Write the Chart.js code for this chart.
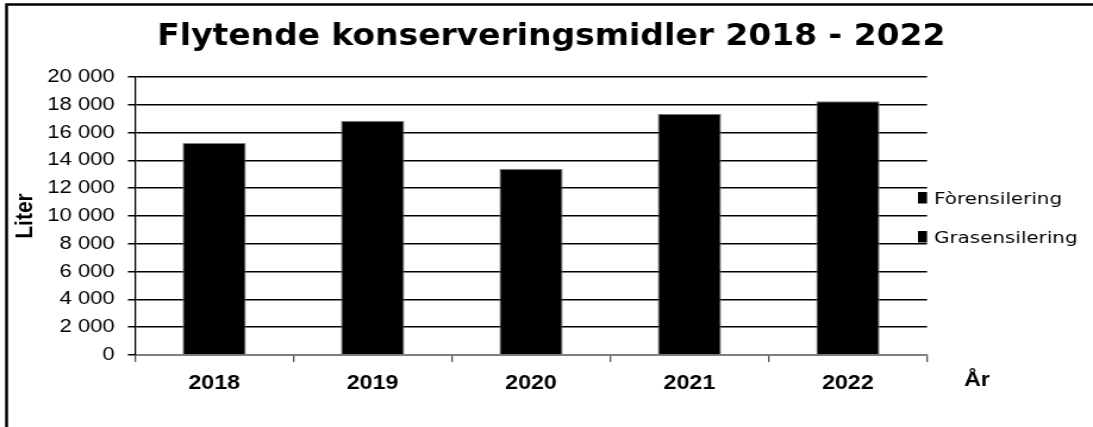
<!DOCTYPE html>
<html>
<head>
<meta charset="utf-8">
<script src="https://cdn.jsdelivr.net/npm/chart.js@4.4.1/dist/chart.umd.min.js"></script>
<style>
  html, body { margin: 0; padding: 0; background: #fff; }
  /* the original picture is stretched sideways, so the canvas is too */
  #chart { display: block; width: 1093px; height: 427px; }
</style>
</head>
<body>
<canvas id="chart" width="918" height="427" style="width:1093px;height:427px"></canvas>
<script>
// data (liter)
const years = ['2018', '2019', '2020', '2021', '2022'];
const grasensilering = [15250, 16850, 13400, 17350, 18250];
const forensilering = [0, 0, 0, 0, 0];
const yTicks = [0, 2000, 4000, 6000, 8000, 10000, 12000, 14000, 16000, 18000, 20000];

const titleText = 'Flytende konserveringsmidler 2018 - 2022';

function fmt(v) {
    return String(v).replace(/\B(?=(\d{3})+(?!\d))/g, ' ');
}

// frame, title, legend and the "År" label
const extras = {
    id: 'extras',
    afterDraw(chart) {
        const ctx = chart.ctx;
        ctx.save();

        ctx.strokeStyle = '#000';
        ctx.lineWidth = 2.5;
        ctx.strokeRect(5.5, 4.5, 1200, 600);

        ctx.fillStyle = '#000';
        ctx.font = 'bold 31px "DejaVu Sans Condensed", "DejaVu Sans", sans-serif';
        ctx.textBaseline = 'alphabetic';
        ctx.textAlign = 'left';
        let sx = 662 / ctx.measureText(titleText).width;
        ctx.save();
        ctx.translate(132, 44.5);
        ctx.scale(sx, 1);
        ctx.fillText(titleText, 0, 0);
        ctx.restore();

        // legend, last series on top like the original
        ctx.font = '16px "DejaVu Sans", sans-serif';
        const sets = chart.data.datasets.slice().reverse();
        sx = 107.5 / ctx.measureText(sets[0].label).width;
        sets.forEach((ds, i) => {
            const y = 204 + i * 39;
            ctx.fillStyle = ds.backgroundColor;
            ctx.fillRect(771, y - 12, 7.6, 11.5);
            ctx.save();
            ctx.translate(784.5, y);
            ctx.scale(sx, 1);
            ctx.fillStyle = '#000';
            ctx.fillText(ds.label, 0, 0);
            ctx.restore();
        });

        ctx.font = 'bold 19.5px "Liberation Sans", Arial, sans-serif';
        ctx.textAlign = 'center';
        ctx.textBaseline = 'middle';
        ctx.fillText('År', 820.5, 381);

        ctx.restore();
    }
};

new Chart(document.getElementById('chart'), {
    type: 'bar',
    data: {
        labels: years,
        datasets: [
            {
                label: 'Grasensilering',
                data: grasensilering,
                backgroundColor: '#000',
                borderColor: '#808080',
                borderWidth: 1
            },
            {
                label: 'Fòrensilering',
                data: forensilering,
                backgroundColor: '#000',
                borderColor: '#808080',
                borderWidth: 0
            }
        ]
    },
    options: {
        responsive: false,
        animation: false,
        devicePixelRatio: 1,
        categoryPercentage: 0.8,
        barPercentage: 0.5,
        layout: { padding: { top: 77, right: 139.4, left: 0, bottom: 0 } },
        plugins: {
            legend: { display: false },
            title: { display: false },
            tooltip: { enabled: false }
        },
        scales: {
            x: {
                stacked: true,
                grid: {
                    offset: true,
                    drawOnChartArea: false,
                    drawTicks: true,
                    tickLength: 7,
                    color: '#555',
                    lineWidth: 1.3
                },
                border: { display: true, color: '#808080', width: 1.5 },
                ticks: {
                    color: '#000',
                    padding: 10,
                    font: { family: '"Liberation Sans", Arial, sans-serif', size: 19.5, weight: 'bold' }
                },
                afterFit(scale) { scale.height = 72; }
            },
            y: {
                stacked: true,
                min: 0,
                max: 20000,
                afterBuildTicks(scale) {
                    scale.ticks = yTicks.map(v => ({ value: v }));
                },
                grid: {
                    color: '#000',
                    lineWidth: 1.5,
                    tickLength: 6
                },
                border: { display: true, color: '#000', width: 1.3 },
                ticks: {
                    color: '#000',
                    padding: 11,
                    font: { family: '"Liberation Sans", Arial, sans-serif', size: 18.5 },
                    callback: (v) => fmt(v)
                },
                title: {
                    display: true,
                    text: 'Liter',
                    color: '#000',
                    padding: { top: 9, bottom: 0 },
                    font: { family: '"Liberation Sans", Arial, sans-serif', size: 21, weight: 'bold' }
                },
                afterFit(scale) { scale.width = 113.4; }
            }
        }
    },
    plugins: [extras]
});
</script>
</body>
</html>
